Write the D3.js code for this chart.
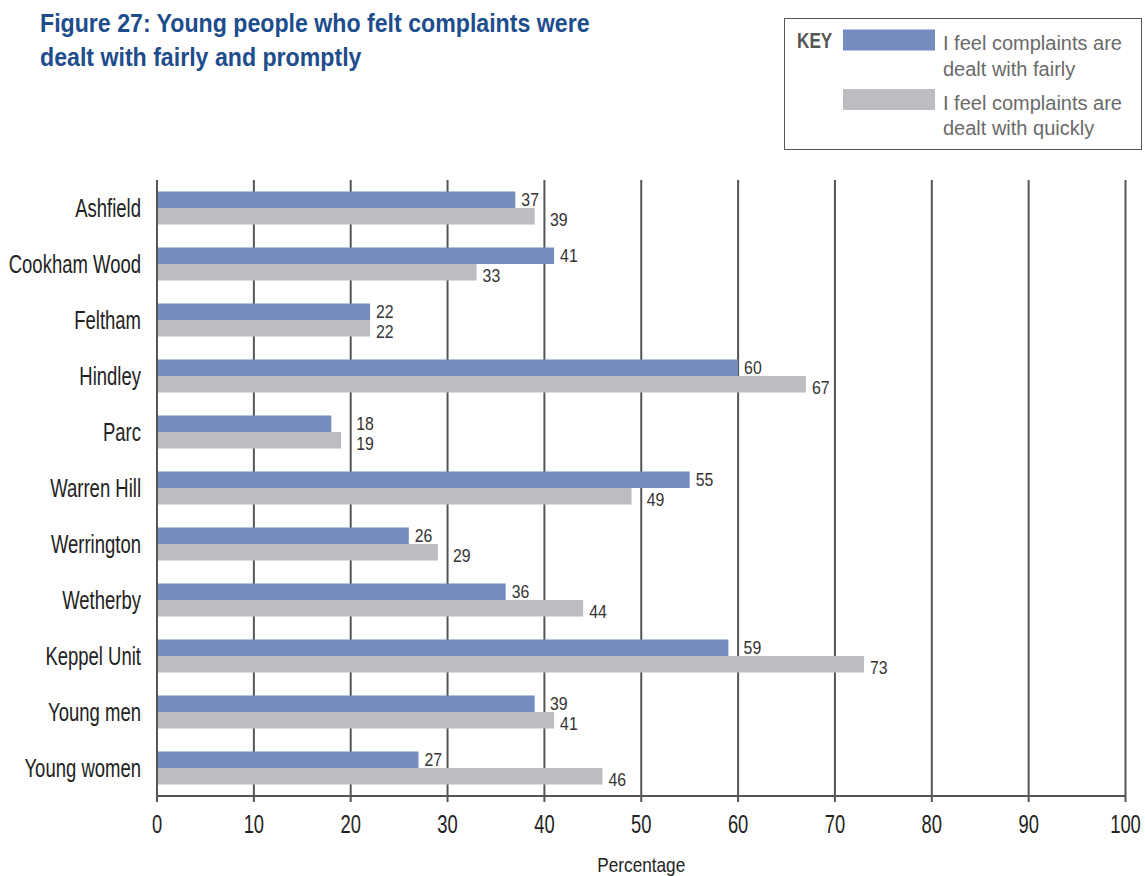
<!DOCTYPE html>
<html><head><meta charset="utf-8">
<script src="https://cdn.jsdelivr.net/npm/d3@7"></script>
<style>
body{margin:0;background:#fff;}
svg{display:block;}
text{font-family:"Liberation Sans",Arial,sans-serif;}
</style></head>
<body>
<svg id="chart" width="1145" height="876"></svg>
<script>
const categories = ["Ashfield","Cookham Wood","Feltham","Hindley","Parc","Warren Hill","Werrington","Wetherby","Keppel Unit","Young men","Young women"];
const fairly  = [37,41,22,60,18,55,26,36,59,39,27];
const quickly = [39,33,22,67,19,49,29,44,73,41,46];
const seriesNames = ["I feel complaints are dealt with fairly","I feel complaints are dealt with quickly"];
const xTicks = [0,10,20,30,40,50,60,70,80,90,100];
const titleLines = ["Figure 27: Young people who felt complaints were","dealt with fairly and promptly"];
const xLabel = "Percentage";

const colors = ["#748dbe","#bcbdc1"];
const gridColor = "#555";
const svg = d3.select("#chart");

// condensed-looking text: regular font squeezed horizontally
function ctext(parent, px, py, str, size, sx, opts={}) {
  const t = parent.append("text")
    .attr("transform", `translate(${px},${py}) scale(${sx},1)`)
    .attr("font-size", size)
    .attr("fill", opts.fill || "#222")
    .attr("text-anchor", opts.anchor || "start")
    .attr("font-weight", opts.weight || "normal")
    .text(str);
  if (opts.dy) t.attr("dy", opts.dy);
  return t;
}

const x = d3.scaleLinear().domain([0,100]).range([157,1125.5]);
const y = d3.scaleBand().domain(categories).range([180,796]).paddingInner(0.41).paddingOuter(0.205);
const sub = d3.scaleBand().domain([0,1]).range([0,y.bandwidth()]);

// Title (squeezed to the reference's measured width of the first line)
const t1 = ctext(svg, 40, 32, titleLines[0], 25, 1, {weight:"bold", fill:"#1d4d8c"});
const tsx = 550 / t1.node().getComputedTextLength();
t1.attr("transform", `translate(40,32) scale(${tsx},1)`);
ctext(svg, 40, 65.5, titleLines[1], 25, tsx, {weight:"bold", fill:"#1d4d8c"});

// Legend
const lg = svg.append("g");
lg.append("rect").attr("x",784.5).attr("y",18.5).attr("width",357).attr("height",131)
  .attr("fill","none").attr("stroke","#555").attr("stroke-width",1);
ctext(lg, 797, 48, "KEY", 22, 0.78, {weight:"bold", fill:"#555"});
seriesNames.forEach((nm,i)=>{
  const yy = 29.5 + i*59.5;
  lg.append("rect").attr("x",843).attr("y",yy).attr("width",92).attr("height",21).attr("fill",colors[i]);
  const words = nm.split(" ");
  const l1 = words.slice(0,4).join(" "), l2 = words.slice(4).join(" ");
  const t = lg.append("text").attr("font-size",20).attr("fill","#6a6a6a");
  t.append("tspan").attr("x",943).attr("y",yy+20.5).text(l1);
  t.append("tspan").attr("x",943).attr("y",yy+46).text(l2);
});

// Grid lines
svg.append("g").selectAll("line").data(xTicks).join("line")
  .attr("x1",d=>x(d)).attr("x2",d=>x(d)).attr("y1",180).attr("y2",802)
  .attr("stroke",gridColor).attr("stroke-width",2);

// Bars
const groups = svg.append("g").selectAll("g").data(categories).join("g")
  .attr("transform",d=>`translate(0,${y(d)})`);
[fairly,quickly].forEach((vals,s)=>{
  groups.append("rect").attr("x",x(0)+1).attr("y",sub(s))
    .attr("width",(d,i)=>x(vals[i])-x(0)-1).attr("height",sub.bandwidth())
    .attr("fill",colors[s]);
});

// Axis baseline
svg.append("line").attr("x1",x(0)).attr("x2",x(100)).attr("y1",796).attr("y2",796)
  .attr("stroke",gridColor).attr("stroke-width",2);

// Value labels
const vsx = 0.88;
[fairly,quickly].forEach((vals,s)=>{
  categories.forEach((c,i)=>{
    const end = x(vals[i]);
    const ty = y(c) + sub(s) + sub.bandwidth()/2 + (s===1?3:-0.5);
    const t = ctext(svg, end+6, ty, vals[i], 18, vsx, {dy:"0.36em", fill:"#333"});
    const w = t.node().getComputedTextLength()*vsx;
    let lx = end + 6;
    xTicks.forEach(g=>{ const gx=x(g); if(gx>end+1.5 && gx<lx+w+1) lx = gx+5.5; });
    t.attr("transform", `translate(${lx},${ty}) scale(${vsx},1)`);
  });
});

// Category labels
categories.forEach(c=>{
  ctext(svg, 141, y(c)+y.bandwidth()/2, c, 25, 0.74, {anchor:"end", dy:"0.36em"});
});

// X tick labels
xTicks.forEach(d=>{
  ctext(svg, x(d), 833, d, 25.5, 0.72, {anchor:"middle"});
});

ctext(svg, x(50), 872, xLabel, 20, 0.86, {anchor:"middle"});
</script>
</body></html>
